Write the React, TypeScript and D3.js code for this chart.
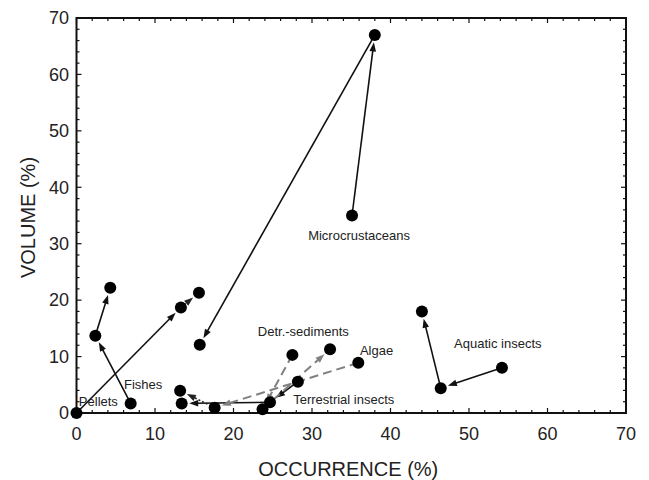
import React from "react";
import * as d3 from "d3";

// Diet categories and their three successive positions (occurrence %, volume %)
const categories = [
  "Microcrustaceans",
  "Aquatic insects",
  "Fishes",
  "Pellets",
  "Terrestrial insects",
  "Algae",
  "Detr.-sediments",
];
const occurrence1 = [35.1, 54.2, 6.9, 0, 28.2, 35.9, 27.5];
const volume1 = [35.0, 8.0, 1.7, 0, 5.55, 8.9, 10.3];
const occurrence2 = [38.0, 46.4, 2.4, 13.3, 24.65, 17.6, 23.7];
const volume2 = [67.0, 4.4, 13.7, 18.7, 1.9, 0.95, 0.65];
const occurrence3 = [15.7, 44.0, 4.3, 15.6, 13.4, 13.2, 32.3];
const volume3 = [12.1, 18.0, 22.2, 21.3, 1.7, 3.95, 11.3];

// label anchor in data units
const labelOcc = [36.0, 48.1, 6.05, 0.3, 27.6, 36.1, 23.1];
const labelVol = [30.7, 11.5, 4.25, 1.24, 1.6, 10.3, 13.65];
const labelAnchor = ["middle", "start", "start", "start", "start", "start", "start"];

// line style of first and second transition
const style1 = ["solid", "solid", "solid", "solid", "solid", "dashed", "dashed"];
const style2 = ["solid", "solid", "solid", "dotted", "solid", "dotted", "dashed"];

const xTicks = [0, 10, 20, 30, 40, 50, 60, 70];
const yTicks = [0, 10, 20, 30, 40, 50, 60, 70];
const minorTicks = d3.range(0, 71, 2);

const W = 649;
const H = 480;
const FONT = "'Liberation Sans', Arial, Helvetica, sans-serif";

const x = d3.scaleLinear().domain([0, 70]).range([76.5, 626]);
const y = d3.scaleLinear().domain([0, 70]).range([413, 18]);

const R = 6;

function styleProps(s: string) {
  if (s === "dashed") return { stroke: "#808080", strokeWidth: 2, strokeDasharray: "9,5", fill: "#808080" };
  if (s === "dotted") return { stroke: "#222", strokeWidth: 1.6, strokeDasharray: "2,2", fill: "#222" };
  return { stroke: "#111", strokeWidth: 1.6, strokeDasharray: undefined, fill: "#111" };
}

function Arrow({ x0, y0, x1, y1, s }: { x0: number; y0: number; x1: number; y1: number; s: string }) {
  const dx = x1 - x0;
  const dy = y1 - y0;
  const len = Math.hypot(dx, dy);
  const ux = dx / len;
  const uy = dy / len;
  const tipX = x1 - ux * (R + 1.5);
  const tipY = y1 - uy * (R + 1.5);
  const hl = 9;
  const hw = 3.3;
  const bx = tipX - ux * hl;
  const by = tipY - uy * hl;
  const lx = tipX - ux * hl * 0.7;
  const ly = tipY - uy * hl * 0.7;
  const p = styleProps(s);
  const head = `M${tipX},${tipY}L${bx - uy * hw},${by + ux * hw}L${bx + uy * hw},${by - ux * hw}Z`;
  return (
    <g>
      <line x1={x0} y1={y0} x2={lx} y2={ly} stroke={p.stroke} strokeWidth={p.strokeWidth} strokeDasharray={p.strokeDasharray} />
      <path d={head} fill={p.fill} stroke="none" />
    </g>
  );
}

export default function App() {
  const [x0, x1] = x.range();
  const [y0, y1] = y.range();
  return (
    <svg width={W} height={H} style={{ position: "absolute", left: 0, top: 0, background: "#fff" }} fontFamily={FONT}>
      <rect x={0} y={0} width={W} height={H} fill="#fff" />
      {/* minor & major ticks on all sides (inward) */}
      {minorTicks.map((t) => {
        const major = t % 10 === 0;
        const L = major ? 5 : 3;
        return (
          <g key={"t" + t} stroke="#111" strokeWidth={1.2}>
            <line x1={x(t)} x2={x(t)} y1={y0} y2={y0 - L} />
            <line x1={x(t)} x2={x(t)} y1={y1} y2={y1 + L} />
            <line x1={x0} x2={x0 + L} y1={y(t)} y2={y(t)} />
            <line x1={x1} x2={x1 - L} y1={y(t)} y2={y(t)} />
          </g>
        );
      })}
      <rect x={x0} y={y1} width={x1 - x0} height={y0 - y1} fill="none" stroke="#111" strokeWidth={2} />
      {xTicks.map((t) => (
        <text key={"xl" + t} x={x(t)} y={y0 + 27} textAnchor="middle" fontSize={18} fill="#222">
          {t}
        </text>
      ))}
      {yTicks.map((t) => (
        <text key={"yl" + t} x={69} y={y(t) + 6.3} textAnchor="end" fontSize={18} fill="#222">
          {t}
        </text>
      ))}
      <text x={(x0 + x1) / 2 - 3} y={476} textAnchor="middle" fontSize={20} fill="#222">
        OCCURRENCE (%)
      </text>
      <text
        transform={`translate(35,${(y0 + y1) / 2 + 2}) rotate(-90)`}
        textAnchor="middle"
        fontSize={20}
        fill="#222"
      >
        VOLUME (%)
      </text>
      {/* trajectories */}
      {categories.map((c, i) => (
        <g key={"a" + c}>
          <Arrow x0={x(occurrence1[i])} y0={y(volume1[i])} x1={x(occurrence2[i])} y1={y(volume2[i])} s={style1[i]} />
          <Arrow x0={x(occurrence2[i])} y0={y(volume2[i])} x1={x(occurrence3[i])} y1={y(volume3[i])} s={style2[i]} />
        </g>
      ))}
      {/* points */}
      {categories.map((c, i) => (
        <g key={"p" + c} fill="#000">
          <circle cx={x(occurrence1[i])} cy={y(volume1[i])} r={R} />
          <circle cx={x(occurrence2[i])} cy={y(volume2[i])} r={R} />
          <circle cx={x(occurrence3[i])} cy={y(volume3[i])} r={R} />
        </g>
      ))}
      {/* labels */}
      {categories.map((c, i) => (
        <text
          key={"l" + c}
          x={x(labelOcc[i])}
          y={y(labelVol[i])}
          textAnchor={labelAnchor[i] as any}
          fontSize={13}
          fill="#222"
        >
          {c}
        </text>
      ))}
    </svg>
  );
}
